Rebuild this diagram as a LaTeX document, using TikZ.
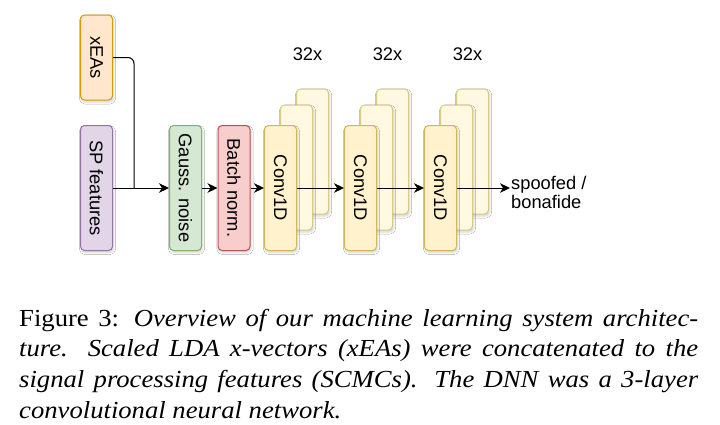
\documentclass[tikz,border=0pt]{standalone}
\usepackage{fontspec}
\setmainfont{Liberation Sans}
\newfontfamily\capfont[FakeStretch=1.088]{Liberation Serif}
\usetikzlibrary{arrows.meta,shadows.blur}
\definecolor{orF}{HTML}{FFE6CC}\definecolor{orD}{HTML}{D79B00}
\definecolor{puF}{HTML}{E1D5E7}\definecolor{puD}{HTML}{9673A6}
\definecolor{grF}{HTML}{D5E8D4}\definecolor{grD}{HTML}{82B366}
\definecolor{reF}{HTML}{F8CECC}\definecolor{reD}{HTML}{B85450}
\definecolor{yeF}{HTML}{FFF2CC}\definecolor{yeD}{HTML}{D6B656}
\tikzset{
  box/.style={draw, line width=1pt, rounded corners=4pt, minimum width=32pt, minimum height=125pt,
    inner sep=0pt, font=\fontsize{18.3}{20}\selectfont,
    blur shadow={shadow xshift=1pt, shadow yshift=-2pt, shadow opacity=18, shadow blur steps=4}},
  convfront/.style={box, fill=yeF, draw=yeD},
  convback/.style={box, fill=yeF!55!white, draw=yeD!75!white},
  conn/.style={line width=1pt, -{Stealth[length=10pt, width=9.5pt, inset=3pt]}},
  lbl/.style={font=\fontsize{18.3}{20}\selectfont, inner sep=0pt}
}
\begin{document}
\begin{tikzpicture}[x=1pt, y=-1pt]
\useasboundingbox (0,0) rectangle (720,424);
\fill[white] (0,0) rectangle (720,424);
% inputs
\node[box, fill=orF, draw=orD, minimum height=85pt] (xeas) at (96.5,57.5) {\rotatebox{-90}{xEAs}};
\node[box, fill=puF, draw=puD] (sp) at (96.5,188) {\rotatebox{-90}{SP features}};
\node[box, fill=grF, draw=grD] (gauss) at (185.5,188) {\rotatebox{-90}{Gauss. noise}};
\node[box, fill=reF, draw=reD] (batch) at (234,188) {\rotatebox{-90}{Batch norm.}};
% conv groups
\node[convback] (c1c) at (312.5,151.5) {};
\node[convback] (c1b) at (296.5,167.5) {};
\node[convfront] (c1) at (280.5,188) {\rotatebox{-90}{Conv1D}};
\node[convback] (c2c) at (392.5,151.5) {};
\node[convback] (c2b) at (376.5,167.5) {};
\node[convfront] (c2) at (360.5,188) {\rotatebox{-90}{Conv1D}};
\node[convback] (c3c) at (472.5,151.5) {};
\node[convback] (c3b) at (456.5,167.5) {};
\node[convfront] (c3) at (440.5,188) {\rotatebox{-90}{Conv1D}};
\node[lbl] (n1) at (307.5,54) {32x};
\node[lbl] (n2) at (387.5,54) {32x};
\node[lbl] (n3) at (467.5,54) {32x};
\node[lbl, anchor=west, align=left, inner sep=1pt] (out) at (510,192.5) {spoofed /\\[-1.5pt]bonafide};
% connectors
\coordinate (j) at (134,188);
\draw[line width=1pt, rounded corners=6pt] (xeas.east) -| (j);
\draw[conn] (sp.east) -- (gauss.west);
\draw[conn] (gauss.east) -- (batch.west);
\draw[conn] (batch.east) -- (c1.west);
\draw[conn] (c1.east) -- (c2.west);
\draw[conn] (c2.east) -- (c3.west);
\draw[conn] (c3.east) -- (c3.east -| out.west);
% caption
\node[anchor=north west, inner sep=0pt, text width=679pt, align=justify] (cap) at (19,304.5)
  {\capfont\fontsize{24.5}{30.7}\selectfont\noindent\strut Figure 3: \itshape Overview of our machine learning system architec-\linebreak
  ture.  Scaled LDA x-vectors (xEAs) were concatenated to the\linebreak
  signal processing features (SCMCs).  The DNN was a 3-layer\linebreak
  convolutional neural network.\par};
\end{tikzpicture}
\end{document}
